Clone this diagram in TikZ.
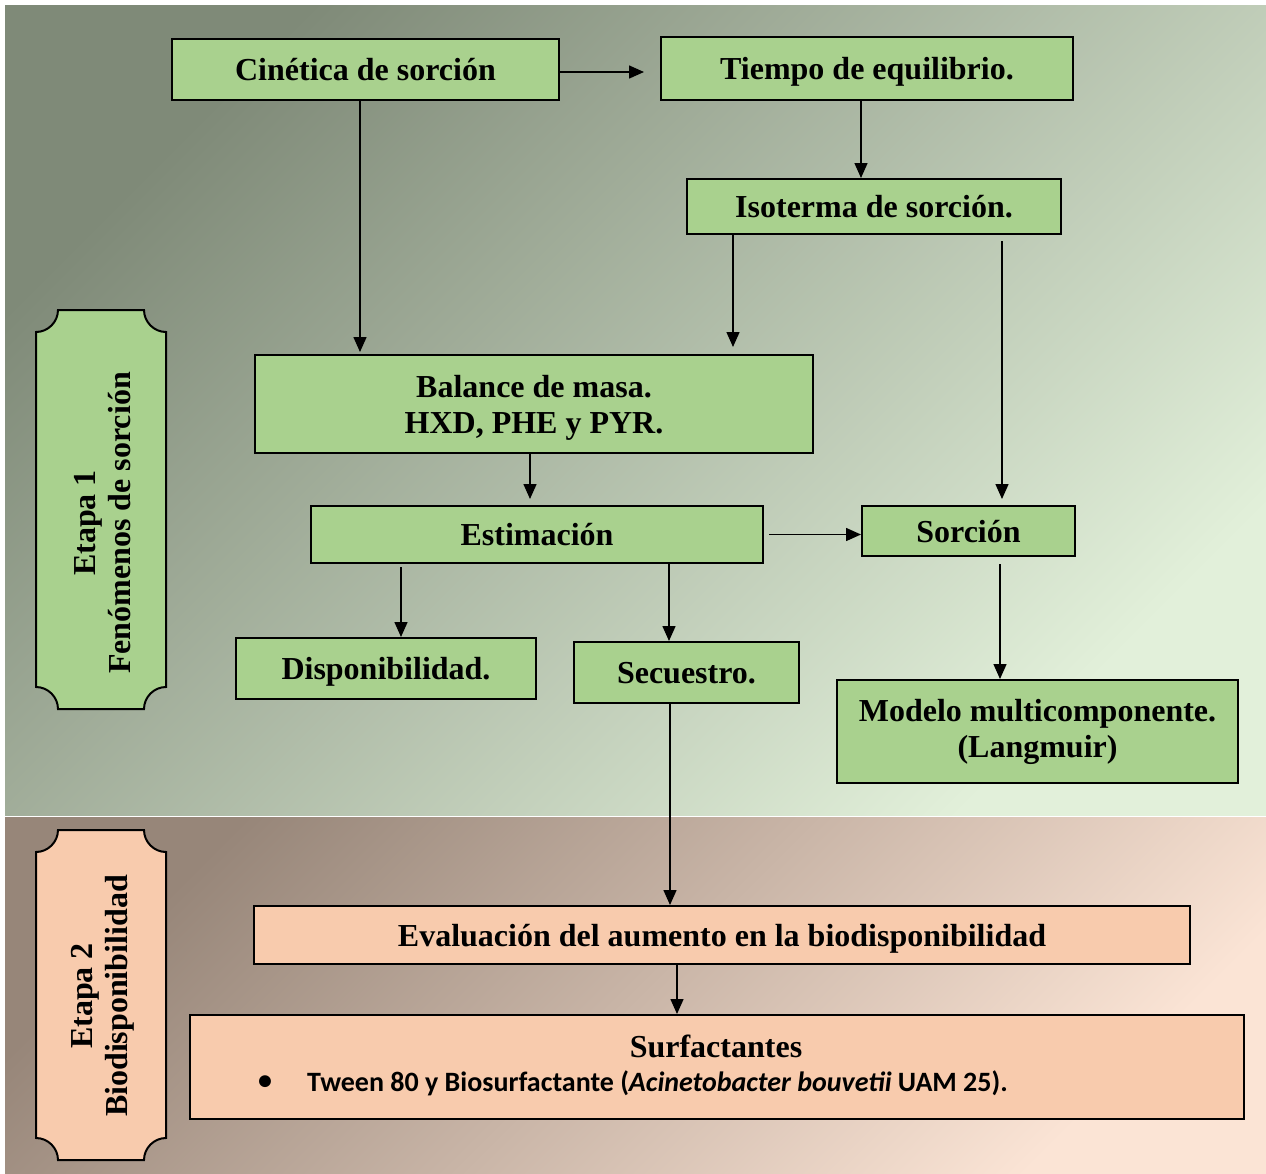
\documentclass[tikz,border=0pt]{standalone}
\usepackage{fontspec}
\setmainfont{Liberation Serif}
\newfontfamily\calib{Carlito}
\usetikzlibrary{arrows.meta,calc}
\definecolor{boxgreen}{HTML}{A9D18E}
\definecolor{boxpink}{HTML}{F8CBAD}
\definecolor{topdark}{HTML}{7F8A78}
\definecolor{toplight}{HTML}{E2F0DA}
\definecolor{botdark}{HTML}{978679}
\definecolor{botlight}{HTML}{FBE4D5}
\newcommand{\myplaque}[5]{%
 \draw[line width=2pt, fill=#5] (#1+22,#2) -- (#3-22,#2)
  .. controls (#3-22,#2+12) and (#3-12,#2+22) .. (#3,#2+22) -- (#3,#4-22)
  .. controls (#3-12,#4-22) and (#3-22,#4-12) .. (#3-22,#4) -- (#1+22,#4)
  .. controls (#1+22,#4-12) and (#1+12,#4-22) .. (#1,#4-22) -- (#1,#2+22)
  .. controls (#1+12,#2+22) and (#1+22,#2+12) .. (#1+22,#2) -- cycle;}
\begin{document}
\begin{tikzpicture}[x=1pt,y=-1pt,
  tfont/.style={font=\fontsize{32}{36}\selectfont\bfseries},
  gbox/.style={draw=black, line width=2pt, fill=boxgreen, tfont, align=center, inner sep=0pt, text height=22pt, text depth=0pt},
  pbox/.style={gbox, fill=boxpink},
  arr/.style={line width=1.5pt, -{Triangle[length=15pt,width=13pt]}},
  lbl/.style={tfont, align=center, rotate=90, inner sep=0pt}]
\useasboundingbox (0,0) rectangle (1266,1173);
\fill[white] (0,0) rectangle (1266,1173);
\shade[top color=topdark, bottom color=toplight, shading angle=45] (5,5) rectangle (1266,815);
\shade[top color=botdark, bottom color=botlight, shading angle=45] (5,817) rectangle (1266,1173);

% plaques
\myplaque{36}{310}{166}{709}{boxgreen}
\node[lbl] (et1) at (103,523) {Etapa 1\\[-1pt]Fenómenos de sorción};
\myplaque{36}{830}{166}{1160}{boxpink}
\node[lbl] (et2) at (103,996) {Etapa 2\\[-1pt]Biodisponibilidad};

% boxes
\node[gbox, minimum width=387, minimum height=61] (cin) at (365.5,69.5) {Cinética de sorción};
\node[gbox, minimum width=412, minimum height=63] (tie) at (867,68.5) {Tiempo de equilibrio.};
\node[gbox, minimum width=374, minimum height=55] (iso) at (874,206.5) {Isoterma de sorción.};
\node[gbox, minimum width=558, minimum height=98, text height=] (bal) at (534,404) {Balance de masa.\\HXD, PHE y PYR.};
\node[gbox, minimum width=452, minimum height=57] (est) at (537,534.5) {Estimación};
\node[gbox, minimum width=213, minimum height=50] (sor) at (968.5,531) {Sorción};
\node[gbox, minimum width=300, minimum height=61] (dis) at (386,668.5) {Disponibilidad.};
\node[gbox, minimum width=225, minimum height=61] (sec) at (686.5,672.5) {Secuestro.};
\node[gbox, minimum width=401, minimum height=103, text height=, text depth=] (mod) at (1037.5,731.5) {Modelo multicomponente.\\(Langmuir)};
\node[pbox, minimum width=936, minimum height=58] (eva) at (722,935) {Evaluación del aumento en la biodisponibilidad};
\node[pbox, minimum width=1054, minimum height=104] (sur) at (717,1067) {};
\node[tfont, inner sep=0pt] (surt) at (716,1046) {Surfactantes};
\node[font=\calib\fontsize{28}{32}\selectfont\bfseries, inner sep=0pt] (bul) at (265,1083) {•};
\node[font=\calib\fontsize{28}{32}\selectfont\bfseries, inner sep=0pt, anchor=west] (sut) at (307,1083) {Tween 80 y Biosurfactante (\textit{Acinetobacter bouvetii} UAM 25).};

% arrows
\coordinate (a0) at ([yshift=-2.5pt]cin.east);
\draw[arr, shorten >=16pt] (a0) -- (tie.west |- a0);
\coordinate (a1) at ([xshift=-6pt]tie.south);
\draw[arr] (a1) -- (a1 |- iso.north);
\coordinate (a2) at ([xshift=-5.5pt]cin.south);
\draw[arr, shorten >=2pt] (a2) -- (a2 |- bal.north);
\coordinate (a3) at ([xshift=-141pt]iso.south);
\draw[arr, shorten >=7pt] (a3) -- (a3 |- bal.north);
\coordinate (a4) at ([xshift=128pt]iso.south);
\draw[arr, shorten <=6pt, shorten >=6pt] (a4) -- (a4 |- sor.north);
\coordinate (a5) at ([xshift=-4pt]bal.south);
\draw[arr, shorten >=6pt] (a5) -- (a5 |- est.north);
\draw[arr, shorten <=5pt] (est.east) -- (est.east -| sor.west);
\coordinate (a6) at ([xshift=-136pt]est.south);
\draw[arr, shorten <=3pt] (a6) -- (a6 |- dis.north);
\coordinate (a7) at ([xshift=132pt]est.south);
\draw[arr] (a7) -- (a7 |- sec.north);
\coordinate (a8) at ([xshift=31.5pt]sor.south);
\draw[arr, shorten <=7pt] (a8) -- (a8 |- mod.north);
\coordinate (a9) at ([xshift=-16.5pt]sec.south);
\draw[arr] (a9) -- (a9 |- eva.north);
\coordinate (a10) at ([xshift=-45pt]eva.south);
\draw[arr] (a10) -- (a10 |- sur.north);
\end{tikzpicture}
\end{document}
